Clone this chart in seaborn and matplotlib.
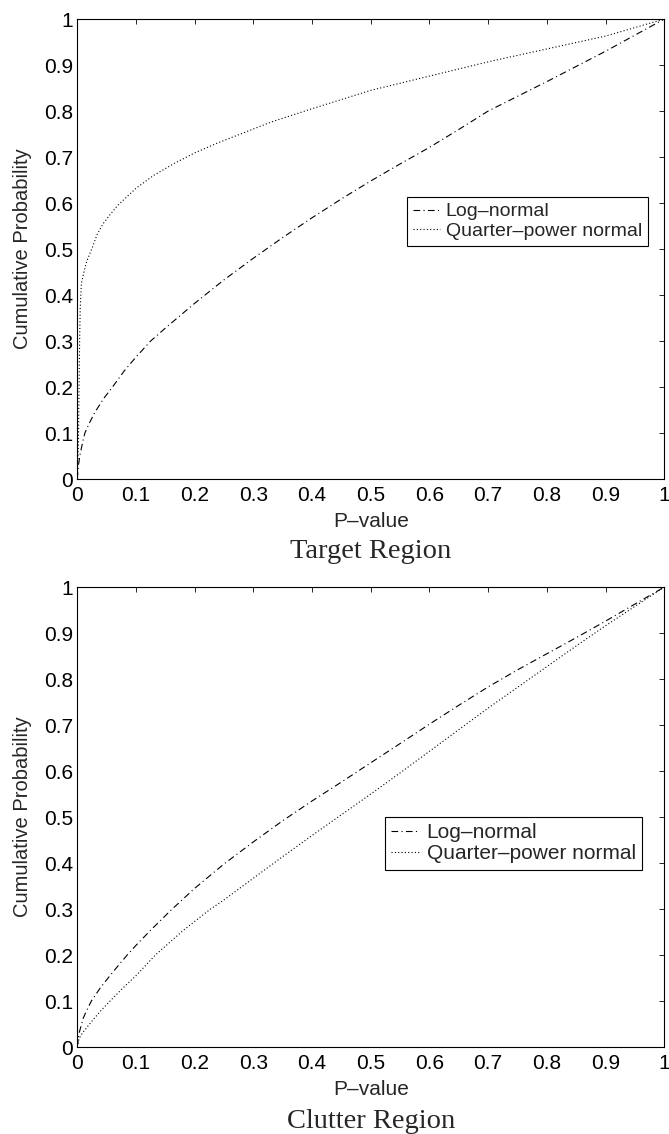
import matplotlib
matplotlib.use("Agg")
import matplotlib.pyplot as plt
import seaborn as sns

# values (P-value vs cumulative probability)
tgt_log_x = [0, 0.002, 0.005, 0.01, 0.013, 0.02, 0.03, 0.045, 0.06, 0.08, 0.1, 0.125, 0.15, 0.2,
             0.25, 0.3, 0.35, 0.4, 0.45, 0.5, 0.55, 0.6, 0.65, 0.7, 0.75, 0.8, 0.85, 0.9, 0.95, 1.0]
tgt_log_y = [0, 0.03, 0.055, 0.085, 0.1, 0.12, 0.145, 0.175, 0.2, 0.235, 0.265, 0.3, 0.328, 0.382,
             0.433, 0.48, 0.525, 0.568, 0.609, 0.648, 0.685, 0.721, 0.76, 0.8, 0.832, 0.864, 0.897,
             0.93, 0.965, 1.0]

tgt_qp_x = [0, 0.002, 0.003, 0.004, 0.005, 0.007, 0.011, 0.016, 0.024, 0.034, 0.044, 0.056, 0.069,
            0.084, 0.1, 0.13, 0.165, 0.2, 0.24, 0.28, 0.33, 0.4, 0.5, 0.6, 0.7, 0.8, 0.9, 1.0]
tgt_qp_y = [0, 0.08, 0.2, 0.3, 0.37, 0.425, 0.448, 0.473, 0.498, 0.532, 0.555, 0.575, 0.595,
            0.613, 0.632, 0.66, 0.686, 0.709, 0.731, 0.751, 0.776, 0.805, 0.845, 0.876, 0.907,
            0.935, 0.963, 1.0]

clt_log_x = [0, 0.003, 0.007, 0.01, 0.015, 0.024, 0.04, 0.06, 0.085, 0.1, 0.125, 0.16, 0.2, 0.25,
             0.3, 0.35, 0.4, 0.45, 0.5, 0.555, 0.6, 0.65, 0.7, 0.75, 0.8, 0.85, 0.9, 0.95, 1.0]
clt_log_y = [0, 0.03, 0.048, 0.062, 0.077, 0.1, 0.13, 0.162, 0.2, 0.221, 0.254, 0.298, 0.345, 0.398,
             0.446, 0.492, 0.535, 0.576, 0.618, 0.664, 0.702, 0.743, 0.783, 0.82, 0.855, 0.89,
             0.926, 0.963, 1.0]

clt_qp_x = [0, 0.003, 0.0085, 0.016, 0.028, 0.041, 0.055, 0.08, 0.1, 0.133, 0.18, 0.227, 0.25,
            0.3, 0.35, 0.4, 0.45, 0.5, 0.55, 0.6, 0.65, 0.7, 0.75, 0.8, 0.85, 0.9, 0.95, 1.0]
clt_qp_y = [0, 0.018, 0.03, 0.042, 0.061, 0.08, 0.099, 0.131, 0.155, 0.2, 0.253, 0.3, 0.32,
            0.367, 0.414, 0.46, 0.505, 0.55, 0.596, 0.643, 0.69, 0.737, 0.782, 0.827, 0.872,
            0.916, 0.958, 1.0]

ticks = [i / 10 for i in range(11)]
tick_labels = ["0", "0.1", "0.2", "0.3", "0.4", "0.5", "0.6", "0.7", "0.8", "0.9", "1"]
series_names = ["Log\u2013normal", "Quarter\u2013power normal"]
panel_titles = ["Target Region", "Clutter Region"]

sns.set_style("white")
plt.rcParams["font.family"] = ["Liberation Sans", "DejaVu Sans"]

fig = plt.figure(figsize=(6.69, 11.34), dpi=100)
ax_top = fig.add_axes([0.1155, 0.5776, 0.8774, 0.4056])
ax_bot = fig.add_axes([0.1155, 0.0767, 0.8774, 0.4056])


def draw_panel(ax, log_x, log_y, qp_x, qp_y, title, title_y, legend_anchor, legend_size):
    sns.lineplot(x=log_x, y=log_y, ax=ax, color="black", linewidth=0.8,
                 linestyle=(0, (6, 3, 1, 3)), label=series_names[0])
    sns.lineplot(x=qp_x, y=qp_y, ax=ax, color="black", linewidth=0.8,
                 linestyle=(0, (1, 2)), label=series_names[1])
    ax.set_xlim(0, 1)
    ax.set_ylim(0, 1)
    ax.set_xticks(ticks)
    ax.set_xticklabels(tick_labels)
    ax.set_yticks(ticks)
    ax.set_yticklabels(tick_labels)
    ax.tick_params(direction="in", top=True, right=True, length=3.6, width=0.6,
                   labelsize=15, colors="black")
    ax.tick_params(axis="x", pad=5)
    ax.tick_params(axis="y", pad=3)
    for sp in ax.spines.values():
        sp.set_color("black")
        sp.set_linewidth(0.8)
    ax.set_xlabel("P\u2013value", fontsize=15)
    ax.set_ylabel("Cumulative Probability", fontsize=14.5)
    ax.xaxis.set_label_coords(0.5, -0.072)
    ax.yaxis.set_label_coords(-0.077, 0.5)
    ax.text(0.5, title_y, title, transform=ax.transAxes, ha="center", va="center",
            fontsize=20.5, family=["Liberation Serif", "DejaVu Serif"])
    leg = ax.legend(loc="upper right", bbox_to_anchor=legend_anchor, borderaxespad=0,
                    fontsize=legend_size, fancybox=False, framealpha=1, edgecolor="black",
                    borderpad=0.3, labelspacing=0.1, handlelength=1.4, handletextpad=0.3)
    leg.get_frame().set_linewidth(0.8)


draw_panel(ax_top, tgt_log_x, tgt_log_y, tgt_qp_x, tgt_qp_y, panel_titles[0], -0.1585,
           (0.972, 0.613), 14)
draw_panel(ax_bot, clt_log_x, clt_log_y, clt_qp_x, clt_qp_y, panel_titles[1], -0.163,
           (0.962, 0.500), 15)

fig.savefig("out.png", dpi=100)
